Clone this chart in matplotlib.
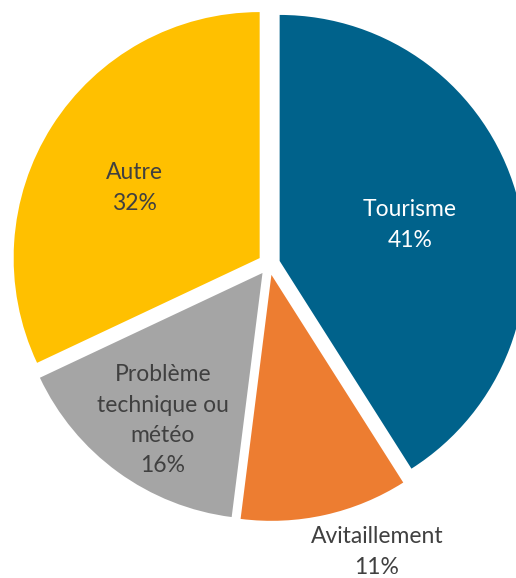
import matplotlib.pyplot as plt

labels = ["Tourisme", "Avitaillement", "Problème\ntechnique ou\nmétéo", "Autre"]
values = [41, 11, 16, 32]
colors = ["#00628B", "#ED7D31", "#A5A5A5", "#FFC000"]
text_colors = ["white", "#404040", "#404040", "#404040"]
# label block centres (data units, pie radius = 1)
label_pos = [(0.573, 0.159), (0.439, -1.17), (-0.431, -0.635), (-0.545, 0.309)]

fig = plt.figure(figsize=(5.16, 5.78), dpi=100)
ax = fig.add_axes([0, 0, 1, 1])

ax.pie(values, colors=colors, startangle=90, counterclock=False,
       explode=[0.045] * len(values), radius=1,
       wedgeprops=dict(linewidth=0))

for lab, v, (x, y), c in zip(labels, values, label_pos, text_colors):
    ax.text(x, y, f"{lab}\n{v}%", ha="center", va="center", color=c,
            fontsize=16.5, family="Lato", linespacing=1.55)

ax.set_xlim(-1.0935, 1.004)
ax.set_ylim(-1.276, 1.073)
ax.set_aspect("equal")
ax.axis("off")

fig.savefig("out.png", dpi=100)
